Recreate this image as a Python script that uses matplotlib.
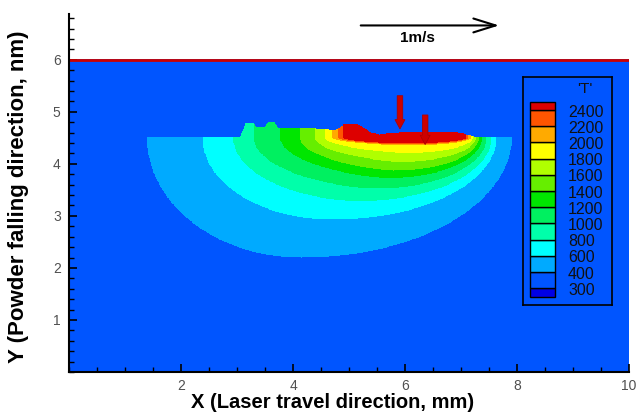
import numpy as np
import matplotlib
matplotlib.use("Agg")
import matplotlib.pyplot as plt
from matplotlib.colors import ListedColormap, BoundaryNorm

plt.rcParams['font.family'] = ['Liberation Sans', 'DejaVu Sans']

# contour levels of 'T' and the band colours (below 300 ... above 2400)
levels = [300, 400, 600, 800, 1000, 1200, 1400, 1600, 1800, 2000, 2200, 2400]
band_colors = ['#0000e6', '#0055ff', '#00aaff', '#00ffff', '#00ffaa', '#00f060',
               '#00e600', '#66ee00', '#b0ff00', '#ffff00', '#ffaa00', '#ff5500', '#dd0000']
ambient_T = 350

# isotherms inside the substrate: left/right ends on the surface, deepest point,
# and how blunt the trailing (left) end is (2 = round)
iso_levels = [400, 600, 800, 1000, 1200, 1400, 1600, 1800, 2000, 2200, 2400]
iso_left = [1.39, 2.38, 2.93, 3.30, 3.77, 4.12, 4.39, 4.57, 4.70, 4.80, 4.88]
iso_right = [7.91, 7.64, 7.55, 7.46, 7.38, 7.32, 7.27, 7.22, 7.18, 7.14, 7.10]
iso_bottom_x = [4.15, 4.70, 5.20, 5.50, 5.70, 5.80, 5.90, 6.00, 6.00, 5.95, 5.95]
iso_bottom_y = [2.19, 2.92, 3.28, 3.52, 3.72, 3.86, 4.03, 4.20, 4.34, 4.36, 4.38]
iso_tail_pow = [2.0, 2.0, 1.9, 1.7, 1.5, 1.4, 1.35, 1.3, 1.3, 1.3, 1.3]
surface_y = 4.5

# top of the deposited track
track_x = [3.05, 3.10, 3.15, 3.30, 3.35, 3.50, 3.55, 3.68, 3.72, 4.30, 4.75, 4.85,
           4.90, 5.15, 5.30, 5.40, 5.55, 5.90, 6.40, 6.90, 7.15, 7.30]
track_y = [4.50, 4.62, 4.78, 4.78, 4.69, 4.69, 4.79, 4.79, 4.69, 4.68, 4.64, 4.70,
           4.75, 4.76, 4.66, 4.58, 4.56, 4.59, 4.61, 4.60, 4.55, 4.50]

# falling powder droplets (x, top, tip)
drop_x = [5.91, 6.36]
drop_top = [5.31, 4.94]
drop_tip = [4.67, 4.37]

domain_w, domain_h = 10.0, 6.0

# temperature field on a fine grid
gx = np.linspace(0, domain_w, 1001)
gy = np.linspace(0, domain_h, 601)
X, Y = np.meshgrid(gx, gy)
T = np.full(X.shape, float(ambient_T))
top = np.interp(gx, track_x, track_y, left=surface_y, right=surface_y)[None, :]
solid = Y <= np.maximum(top, surface_y)
Yc = np.minimum(Y, surface_y - 0.005)
for lev, xl, xr, xb, yb, p in zip(iso_levels, iso_left, iso_right, iso_bottom_x,
                                   iso_bottom_y, iso_tail_pow):
    behind = X < xb
    ax_len = np.where(behind, xb - xl, xr - xb)
    pw = np.where(behind, p, 2.0)
    r = (np.abs(X - xb) / ax_len) ** pw + ((surface_y - Yc) / (surface_y - yb)) ** 2
    T[solid & (r <= 1)] = lev + 1

cmap = ListedColormap(band_colors)
norm = BoundaryNorm([0] + levels + [5000], cmap.N)

fig = plt.figure(figsize=(6.38, 4.15), dpi=100)
ax = fig.add_axes([69 / 638, 1 - 372 / 415, 560 / 638, 358 / 415])
ax.imshow(T, extent=[0, domain_w, 0, domain_h], origin='lower', cmap=cmap, norm=norm,
          interpolation='nearest', aspect='auto', zorder=1)
ax.axhline(domain_h, color='#cc0000', lw=2, zorder=3)

for x0, y0, y1 in zip(drop_x, drop_top, drop_tip):
    ax.arrow(x0, y0, 0, y1 - y0, width=0.1, head_width=0.18, head_length=0.18,
             length_includes_head=True, fc='#cc0000', ec='#aa0000', lw=0.5, zorder=4)

# velocity scale arrow
ax.annotate('', xy=(7.73, 6.66), xytext=(5.16, 6.66),
            arrowprops=dict(arrowstyle='->,head_length=1.6,head_width=0.5', lw=1.5, color='black'))
ax.text(6.23, 6.41, '1m/s', ha='center', va='center', fontsize=11, fontweight='bold')

ax.set_xlim(0, domain_w)
ax.set_ylim(0, 6.88)
ax.set_xticks([2, 4, 6, 8, 10])
ax.set_xticks(np.arange(0, 10.01, 0.5), minor=True)
ax.set_yticks([1, 2, 3, 4, 5, 6])
ax.set_yticks(np.arange(0, 6.81, 0.2), minor=True)
ax.tick_params(which='both', direction='in', labelsize=10, labelcolor='#505050')
ax.tick_params(which='major', length=6, width=1.2)
ax.tick_params(which='minor', length=3.5, width=1)
ax.tick_params(axis='x', pad=5)
ax.tick_params(axis='y', pad=6)
for s in ['top', 'right']:
    ax.spines[s].set_visible(False)
for s in ['left', 'bottom']:
    ax.spines[s].set_linewidth(1.5)
    ax.spines[s].set_zorder(5)

ax.set_xlabel('X (Laser travel direction, mm)', fontsize=14.5, fontweight='bold')
ax.set_ylabel('Y (Powder falling direction, nm)', fontsize=16, fontweight='bold')
ax.xaxis.set_label_coords(0.47, -0.058)
ax.yaxis.set_label_coords(-0.072, 0.49)

# contour legend box
lg = fig.add_axes([523 / 638, 1 - 305 / 415, 89 / 638, 228 / 415])
lg.set_facecolor(band_colors[1])
lg.set_xlim(0, 89)
lg.set_ylim(-1.03, 13.04)
lg.set_xticks([])
lg.set_yticks([])
for s in lg.spines.values():
    s.set_linewidth(1.2)
n = len(band_colors)
for j, c in enumerate(band_colors):
    lo = j - 1 if j > 0 else -0.55
    hi = j if j < n - 1 else j - 0.5
    lg.bar(19.5, hi - lo, bottom=lo, width=25, color=c, edgecolor='black', lw=1)
for k, lev in enumerate(levels):
    lg.text(45, k - 0.12, str(lev), ha='left', va='center', fontsize=11.5, color='#111111')
lg.text(62, 12.3, "'T'", ha='center', va='center', fontsize=11, color='#111111')

fig.savefig('out.png', dpi=100)
